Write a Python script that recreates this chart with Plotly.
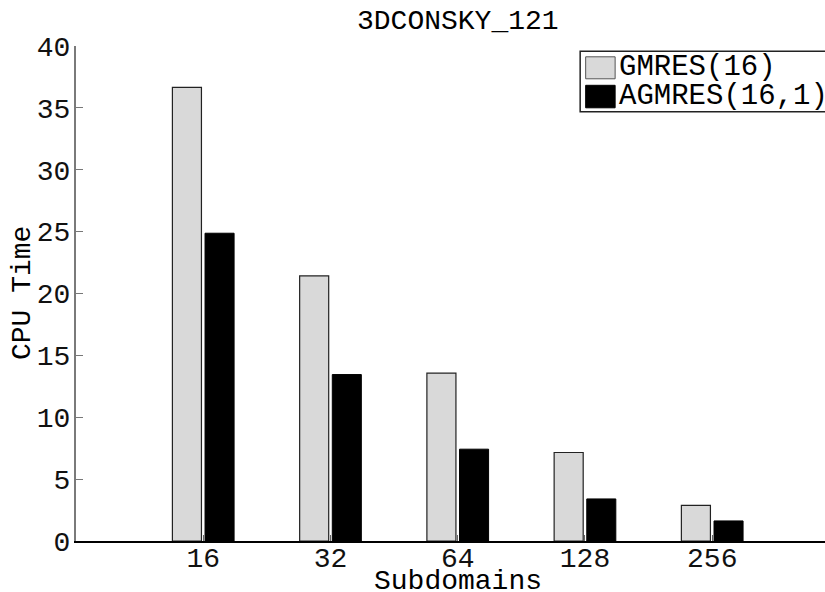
import plotly.graph_objects as go

# Chart data
title_text = "3DCONSKY_121"
subdomains = ["16", "32", "64", "128", "256"]
gmres_time = [36.65, 21.42, 13.56, 7.15, 2.88]
agmres_time = [24.87, 13.45, 7.42, 3.40, 1.62]
series_names = ["GMRES(16)", "AGMRES(16,1)"]
y_ticks = [0, 5, 10, 15, 20, 25, 30, 35, 40]

W, H = 825, 592
ML, MR, MT, MB = 75.5, 0, 45.7, 51.3
FONT = "Liberation Mono, Courier New, monospace"
FS = 28

# category positions 1..5 on a numeric axis spanning 0..6 (right part cropped)
xpos = list(range(1, len(subdomains) + 1))
plot_w = W - ML - MR
unit = 127.33
x_max = plot_w / unit


def px_x(px):
    return (px - ML) / plot_w


def px_y(py):
    return (H - MB - py) / (H - MT - MB)


fig = go.Figure()
fig.add_trace(go.Bar(
    x=xpos, y=gmres_time, name=series_names[0],
    marker=dict(color="#d9d9d9", line=dict(color="#222222", width=1.2)),
))
fig.add_trace(go.Bar(
    x=xpos, y=agmres_time, name=series_names[1],
    marker=dict(color="#000000", line=dict(color="#000000", width=1)),
))

# legend box drawn by hand (its right side runs past the page edge)
shapes = [
    dict(type="path", xref="paper", yref="paper",
         path="M {x1},{y0} L {x0},{y0} L {x0},{y1} L {x1},{y1}".format(
             x0=px_x(580), x1=px_x(826), y0=px_y(111.5), y1=px_y(51)),
         line=dict(color="#222222", width=1.5)),
    dict(type="rect", xref="paper", yref="paper",
         x0=px_x(585.5), x1=px_x(615), y0=px_y(78.5), y1=px_y(56.5),
         line=dict(color="#555555", width=1), fillcolor="#d9d9d9"),
    dict(type="rect", xref="paper", yref="paper",
         x0=px_x(585.5), x1=px_x(615), y0=px_y(107.5), y1=px_y(85),
         line=dict(color="#000000", width=1), fillcolor="#000000"),
]

annotations = [
    dict(text=series_names[0], xref="paper", yref="paper",
         x=px_x(617), y=px_y(67.5), xanchor="left", yanchor="middle",
         showarrow=False, font=dict(family=FONT, size=FS + 1, color="black")),
    dict(text=series_names[1], xref="paper", yref="paper",
         x=px_x(617), y=px_y(96.5), xanchor="left", yanchor="middle",
         showarrow=False, font=dict(family=FONT, size=FS + 1, color="black")),
    dict(text=title_text, xref="x", yref="paper",
         x=3, y=px_y(21), xanchor="center", yanchor="middle",
         showarrow=False, font=dict(family=FONT, size=FS, color="black")),
    dict(text="Subdomains", xref="x", yref="paper",
         x=3, y=px_y(581), xanchor="center", yanchor="middle",
         showarrow=False, font=dict(family=FONT, size=FS, color="black")),
    dict(text="CPU Time", xref="paper", yref="paper",
         x=px_x(22), y=0.5, xanchor="center", yanchor="middle", textangle=-90,
         showarrow=False, font=dict(family=FONT, size=FS, color="black")),
]

fig.update_layout(
    width=W, height=H,
    margin=dict(l=ML, r=MR, t=MT, b=MB, pad=0),
    paper_bgcolor="white", plot_bgcolor="white",
    barmode="group", bargap=0.487, bargroupgap=0.11,
    showlegend=False,
    shapes=shapes, annotations=annotations,
    font=dict(family=FONT, size=FS, color="black"),
)
fig.update_xaxes(
    range=[0, x_max], tickmode="array", tickvals=xpos, ticktext=subdomains,
    ticks="inside", ticklen=6, tickcolor="#666666", tickwidth=1,
    showline=True, linecolor="black", linewidth=1.5,
    showgrid=False, zeroline=False,
    tickfont=dict(family=FONT, size=FS, color="#111111"),
    ticklabelstandoff=-9,
)
fig.update_yaxes(
    range=[0, 40], tickmode="array", tickvals=y_ticks,
    ticks="inside", ticklen=7, tickcolor="#777777", tickwidth=1,
    showline=True, linecolor="#7a7a7a", linewidth=2,
    showgrid=False, zeroline=False,
    tickfont=dict(family=FONT, size=FS, color="#111111"),
    ticklabelstandoff=-2,
)

fig.write_html("out.html")
